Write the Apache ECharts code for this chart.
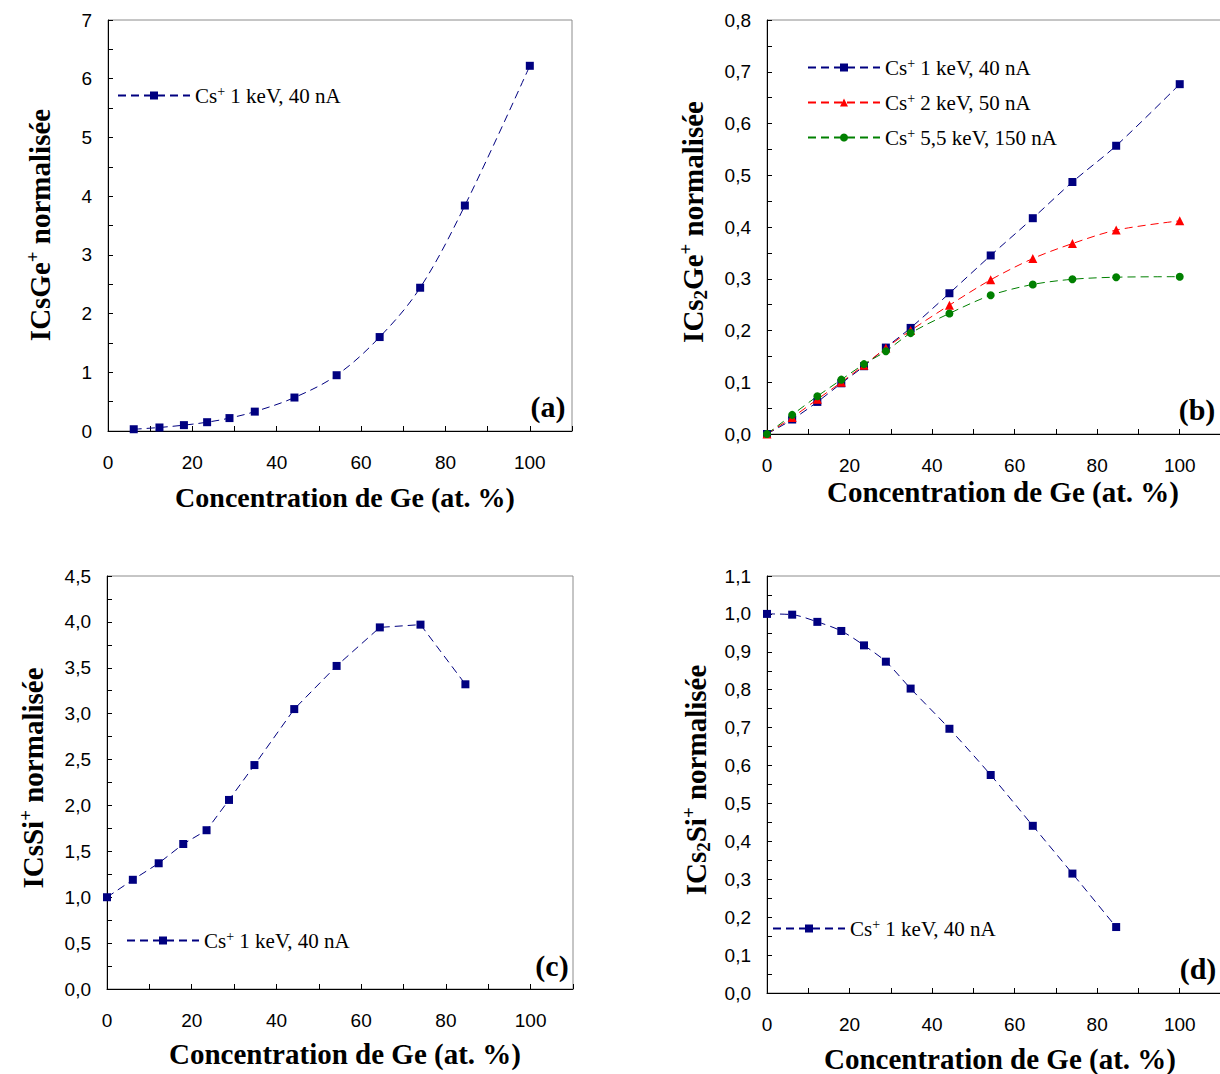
<!DOCTYPE html>
<html>
<head>
<meta charset="utf-8">
<script src="https://cdn.jsdelivr.net/npm/echarts@6/dist/echarts.min.js"></script>
<style>
html,body{margin:0;padding:0;background:#fff;}
#chart{width:1220px;height:1074px;}
</style>
</head>
<body>
<div id="chart"></div>
<script>
// ---- data ----
var concA = [6.1, 12.2, 18, 23.5, 28.8, 34.8, 44.2, 54.2, 64.4, 74, 84.6, 100];
var valA  = [0.03, 0.06, 0.10, 0.15, 0.22, 0.33, 0.57, 0.95, 1.60, 2.44, 3.84, 6.22];

var concB = [0, 6.1, 12.2, 18, 23.5, 28.8, 34.8, 44.2, 54.2, 64.4, 74, 84.6, 100];
var valB1 = [0, 0.028, 0.062, 0.098, 0.131, 0.167, 0.205, 0.272, 0.345, 0.417, 0.487, 0.557, 0.676];
var valB2 = [0, 0.032, 0.067, 0.100, 0.133, 0.166, 0.200, 0.249, 0.298, 0.339, 0.368, 0.394, 0.412];
var valB3 = [0, 0.037, 0.073, 0.105, 0.135, 0.160, 0.195, 0.233, 0.268, 0.289, 0.299, 0.303, 0.304];

var concC = [0, 6.1, 12.2, 18, 23.5, 28.8, 34.8, 44.2, 54.2, 64.4, 74, 84.6];
var valC  = [1.00, 1.19, 1.37, 1.58, 1.73, 2.06, 2.44, 3.05, 3.52, 3.94, 3.97, 3.32];

var concD = [0, 6.1, 12.2, 18, 23.5, 28.8, 34.8, 44.2, 54.2, 64.4, 74, 84.6];
var valD  = [1.000, 0.998, 0.979, 0.955, 0.917, 0.874, 0.803, 0.697, 0.575, 0.441, 0.315, 0.174];

var xTickLabels = [0, 20, 40, 60, 80, 100];
var yTickLabelsA = [0, 1, 2, 3, 4, 5, 6, 7];
var yTickLabelsB = [0, 0.1, 0.2, 0.3, 0.4, 0.5, 0.6, 0.7, 0.8];
var yTickLabelsC = [0, 0.5, 1, 1.5, 2, 2.5, 3, 3.5, 4, 4.5];
var yTickLabelsD = [0, 0.1, 0.2, 0.3, 0.4, 0.5, 0.6, 0.7, 0.8, 0.9, 1.0, 1.1];

var legendNames = {
  a1: ['Cs', '+', ' 1 keV, 40 nA'],
  b1: ['Cs', '+', ' 1 keV, 40 nA'],
  b2: ['Cs', '+', ' 2 keV, 50 nA'],
  b3: ['Cs', '+', ' 5,5 keV, 150 nA'],
  c1: ['Cs', '+', ' 1 keV, 40 nA'],
  d1: ['Cs', '+', ' 1 keV, 40 nA']
};

// ---- helpers ----
function zip(xs, ys) { return xs.map(function (x, i) { return [x, ys[i]]; }); }
function inList(list, v) {
  for (var i = 0; i < list.length; i++) { if (Math.abs(list[i] - v) < 1e-6) return true; }
  return false;
}
function yFmt(list, dec) {
  return function (v) {
    if (!inList(list, v)) return '';
    return dec ? v.toFixed(dec).replace('.', ',') : String(Math.round(v));
  };
}
function xFmt(v) { return inList(xTickLabels, v) ? String(Math.round(v)) : ''; }

var NAVY = '#000080', RED = '#ff0000', GREEN = '#008000';
var SERIF = 'Liberation Serif', SANS = 'Liberation Sans';

var grids = [
  {left: 108, top: 20, width: 464, height: 411},
  {left: 767, top: 20, width: 454, height: 414},
  {left: 107, top: 576, width: 466, height: 413},
  {left: 767, top: 576, width: 454, height: 417}
].map(function (g) {
  return Object.assign({show: true, borderColor: '#8c8c8c', borderWidth: 1, backgroundColor: 'transparent', containLabel: false, outerBoundsMode: 'none'}, g);
});

function xAxis(idx) {
  return {
    type: 'value', gridIndex: idx, min: 0, max: 110, interval: 10,
    axisLine: {show: true, lineStyle: {color: '#000', width: 1}},
    axisTick: {show: true, inside: true, length: 5, lineStyle: {color: '#000'}},
    splitLine: {show: false},
    axisLabel: {color: '#000', fontFamily: SANS, fontSize: 19, margin: 22, formatter: xFmt,
                showMinLabel: true, showMaxLabel: true}
  };
}
function yAxis(idx, max, interval, list, dec) {
  return {
    type: 'value', gridIndex: idx, min: 0, max: max, interval: interval,
    axisLine: {show: true, lineStyle: {color: '#000', width: 1}},
    axisTick: {show: true, inside: true, length: 5, lineStyle: {color: '#000'}},
    splitLine: {show: false},
    axisLabel: {color: '#000', fontFamily: SANS, fontSize: 19, margin: 16, formatter: yFmt(list, dec),
                showMinLabel: true, showMaxLabel: true}
  };
}
function lineSeries(name, idx, data, color, symbol, smooth) {
  return {
    name: name, type: 'line', xAxisIndex: idx, yAxisIndex: idx, data: data,
    symbol: symbol, symbolSize: symbol === 'triangle' ? 9 : 8, showAllSymbol: true,
    smooth: smooth, clip: false,
    lineStyle: {color: color, width: 1, type: [8, 5]},
    itemStyle: {color: color, borderWidth: 0},
    emphasis: {disabled: true}, animation: false
  };
}
function legend(names, left, top, gap) {
  return {
    data: names, left: left, top: top, orient: 'vertical', itemGap: gap || 10,
    itemWidth: 72, itemHeight: 10, padding: 0, selectedMode: false,
    formatter: function (n) { var p = legendNames[n]; return '{n|' + p[0] + '}{s|' + p[1] + '}{n|' + p[2] + '}'; },
    textStyle: {
      color: '#000', fontFamily: SERIF, fontSize: 21,
      rich: {
        n: {fontFamily: SERIF, fontSize: 21, color: '#000', lineHeight: 23},
        s: {fontFamily: SERIF, fontSize: 14, color: '#000', lineHeight: 14, verticalAlign: 'top'}
      }
    }
  };
}

var titleRich = {
  b: {fontFamily: SERIF, fontSize: 29, fontWeight: 'bold', color: '#000', lineHeight: 34},
  sup: {fontFamily: SERIF, fontSize: 19, fontWeight: 'bold', color: '#000', lineHeight: 16, verticalAlign: 'top'},
  sub: {fontFamily: SERIF, fontSize: 19, fontWeight: 'bold', color: '#000', lineHeight: 22, verticalAlign: 'bottom'}
};
function vTitle(x, y, text) {
  return {type: 'text', x: x, y: y, rotation: Math.PI / 2, silent: true,
    style: {text: text, rich: titleRich, align: 'center', verticalAlign: 'middle', fill: '#000'}};
}
function hTitle(x, y, size) {
  return {type: 'text', x: x, y: y, silent: true,
    style: {text: 'Concentration de Ge (at. %)', fontFamily: SERIF, fontSize: size, fontWeight: 'bold',
            fill: '#000', align: 'center', verticalAlign: 'middle'}};
}
function panelLabel(x, y, t) {
  return {type: 'text', x: x, y: y, silent: true,
    style: {text: t, fontFamily: SERIF, fontSize: 30, fontWeight: 'bold', fill: '#000',
            align: 'center', verticalAlign: 'middle'}};
}

var option = {
  backgroundColor: '#fff',
  animation: false,
  grid: grids,
  xAxis: [xAxis(0), xAxis(1), xAxis(2), xAxis(3)],
  yAxis: [
    yAxis(0, 7, 0.5, yTickLabelsA, 0),
    yAxis(1, 0.8, 0.05, yTickLabelsB, 1),
    yAxis(2, 4.5, 0.25, yTickLabelsC, 1),
    yAxis(3, 1.1, 0.05, yTickLabelsD, 1)
  ],
  legend: [
    legend(['a1'], 117, 84),
    legend(['b1', 'b2', 'b3'], 807, 56, 13),
    legend(['c1'], 126, 929),
    legend(['d1'], 772, 917)
  ],
  series: [
    lineSeries('a1', 0, zip(concA, valA), NAVY, 'rect', 0.35),
    lineSeries('b1', 1, zip(concB, valB1), NAVY, 'rect', 0.3),
    lineSeries('b2', 1, zip(concB, valB2), RED, 'triangle', 0.3),
    lineSeries('b3', 1, zip(concB, valB3), GREEN, 'circle', 0.3),
    lineSeries('c1', 2, zip(concC, valC), NAVY, 'rect', false),
    lineSeries('d1', 3, zip(concD, valD), NAVY, 'rect', 0.3)
  ],
  graphic: [
    vTitle(40, 225, '{b|ICsGe}{sup|+}{b| normalisée}'),
    vTitle(693, 222, '{b|ICs}{sub|2}{b|Ge}{sup|+}{b| normalisée}'),
    vTitle(33, 778, '{b|ICsSi}{sup|+}{b| normalisée}'),
    vTitle(696, 780, '{b|ICs}{sub|2}{b|Si}{sup|+}{b| normalisée}'),
    hTitle(345, 497, 28),
    hTitle(1003, 492, 29),
    hTitle(345, 1054, 29),
    hTitle(1000, 1059, 29),
    panelLabel(548, 406, '(a)'),
    panelLabel(1197, 409, '(b)'),
    panelLabel(552, 965, '(c)'),
    panelLabel(1198, 968, '(d)')
  ]
};

var chart = echarts.init(document.getElementById('chart'), null, {renderer: 'svg'});
chart.setOption(option);
</script>
</body>
</html>
